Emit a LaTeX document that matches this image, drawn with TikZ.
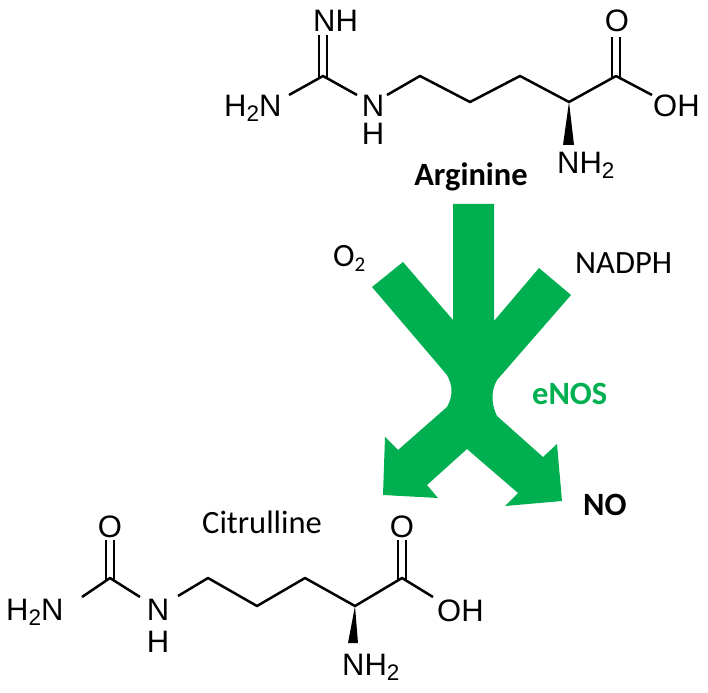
\documentclass[tikz,border=0pt]{standalone}
\usepackage{fontspec}
\setmainfont{Liberation Sans}
\newfontfamily\calibrifont{Carlito}
\definecolor{nosgreen}{RGB}{0,176,80}
\newcommand{\chsub}[1]{\raisebox{-5pt}{\fontsize{22.5}{22.5}\selectfont #1}}
\newcommand{\lblsub}[1]{\raisebox{-5pt}{\fontsize{21}{21}\selectfont #1}}
\begin{document}
\begin{tikzpicture}[x=1pt,y=-1pt,
  atom/.style={inner sep=0pt, font=\fontsize{31}{36}\selectfont},
  lbl/.style={inner sep=0pt, font=\calibrifont\fontsize{32.5}{39}\selectfont},
  bond/.style={line width=2.5pt, line join=round},
  wedgebond/.style={fill=black}]
\useasboundingbox (0,0) rectangle (708,692);

% ---------- green branched arrow ----------
\fill[nosgreen] (453,204) -- (494,204) -- (494,321) -- (539,268) -- (571,295) -- (497,380)
  .. controls (491,390) and (491,404) .. (497,416)
  -- (543,457) -- (557,444) -- (562,501) -- (505,506) -- (518,493) -- (467,449)
  -- (427,485) -- (438,498) -- (383,495) -- (385,437) -- (398,450) -- (447,407)
  .. controls (453,396) and (453,386) .. (447,375)
  -- (372,287) -- (403,262) -- (453,320) -- cycle;

% ---------- Arginine ----------
\coordinate (aCg) at (323,76);
\coordinate (aNe) at (357,95);
\coordinate (aH2Ne) at (289,95);
\coordinate (aNs) at (387,95);
\coordinate (aC1) at (420,76);
\coordinate (aC2) at (470,102);
\coordinate (aC3) at (520,76);
\coordinate (aCa) at (569,102);
\coordinate (aCc) at (616,76);
\coordinate (aOHe) at (652,95);

\node[atom, anchor=base west] (aNH) at (313,31.7) {NH};
\node[atom, anchor=base west] (aH2N) at (224,116.7) {H\chsub{2}N};
\node[atom, anchor=base] (aN) at (373,116.7) {N};
\node[atom, anchor=base] (aNHh) at (373,145) {H};
\node[atom, anchor=base] (aO) at (617,31.7) {O};
\node[atom, anchor=base west] (aOH) at (653,116.7) {OH};
\node[atom, anchor=base west] (aNH2) at (557,173.3) {NH\chsub{2}};
\node[lbl, anchor=base, font=\calibrifont\bfseries\fontsize{32.5}{39}\selectfont] (arg) at (471,186) {Arginine};

\draw[bond] (319,35) -- (319,78);
\draw[bond] (327,35) -- (327,78);
\draw[bond] (aH2Ne) -- (aCg) -- (aNe);
\draw[bond] (aNs) -- (aC1) -- (aC2) -- (aC3) -- (aCa) -- (aCc) -- (aOHe);
\draw[bond] (612,37) -- (612,78);
\draw[bond] (620,37) -- (620,78);
\fill[wedgebond] (aCa) -- (563,145) -- (574,145) -- cycle;

% ---------- Citrulline ----------
\coordinate (cCu) at (110,578);
\coordinate (cH2Ne) at (82,597);
\coordinate (cNe) at (140,597);
\coordinate (cNs) at (178,596);
\coordinate (cC1) at (208,578);
\coordinate (cC2) at (257,606);
\coordinate (cC3) at (305,578);
\coordinate (cCa) at (355,606);
\coordinate (cCc) at (402,578);
\coordinate (cOHe) at (433,597);

\node[atom, anchor=base] (cO1) at (110,537) {O};
\node[atom, anchor=base west] (cH2N) at (6,620) {H\chsub{2}N};
\node[atom, anchor=base] (cN) at (158,620) {N};
\node[atom, anchor=base] (cNHh) at (158,652) {H};
\node[atom, anchor=base] (cO2) at (402,537) {O};
\node[atom, anchor=base west] (cOH) at (437,621.7) {OH};
\node[atom, anchor=base west] (cNH2) at (342,675) {NH\chsub{2}};
\node[lbl, anchor=base west] (cit) at (202,533) {Citrulline};

\draw[bond] (106,540) -- (106,581);
\draw[bond] (114,540) -- (114,581);
\draw[bond] (cH2Ne) -- (cCu) -- (cNe);
\draw[bond] (cNs) -- (cC1) -- (cC2) -- (cC3) -- (cCa) -- (cCc) -- (cOHe);
\draw[bond] (398,540) -- (398,581);
\draw[bond] (406,540) -- (406,581);
\fill[wedgebond] (cCa) -- (348,643) -- (358,643) -- cycle;

% ---------- labels ----------
\node[lbl, anchor=base west] (o2) at (333,266) {O\lblsub{2}};
\node[lbl, anchor=base west] (nadph) at (575,273) {NADPH};
\node[lbl, anchor=base west, text=nosgreen, font=\calibrifont\bfseries\fontsize{32.5}{39}\selectfont] (enos) at (532,404) {eNOS};
\node[lbl, anchor=base west, font=\calibrifont\bfseries\fontsize{32.5}{39}\selectfont] (no) at (583,515) {NO};
\end{tikzpicture}
\end{document}
